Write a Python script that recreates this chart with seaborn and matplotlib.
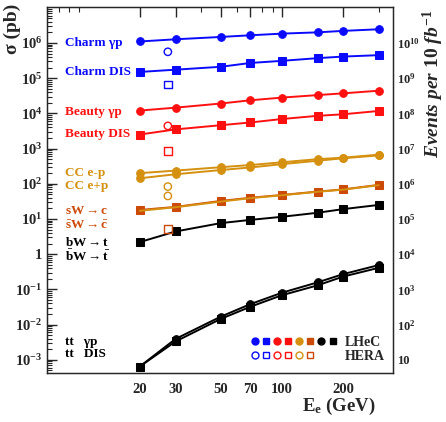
import seaborn as sns
import pandas as pd
import matplotlib.pyplot as plt
from matplotlib.lines import Line2D
from matplotlib.legend_handler import HandlerTuple
from matplotlib.ticker import LogLocator, NullFormatter

# beam energy points (GeV)
E = [20, 30, 50, 70, 100, 150, 200, 300]
E_hera = 27.5

# cross sections in pb
charm_gp = [1.1e6, 1.27e6, 1.48e6, 1.65e6, 1.84e6, 2.0e6, 2.2e6, 2.45e6]
charm_dis = [1.5e5, 1.74e5, 2.1e5, 2.7e5, 3.1e5, 3.7e5, 4.1e5, 4.5e5]
beauty_gp = [1.2e4, 1.45e4, 1.9e4, 2.35e4, 2.8e4, 3.3e4, 3.7e4, 4.4e4]
beauty_dis = [2.5e3, 3.5e3, 4.6e3, 5.5e3, 6.9e3, 8.5e3, 9.4e3, 1.17e4]
cc_em = [200, 236, 295, 340, 407, 500, 550, 670]
cc_ep = [143, 186, 245, 290, 360, 450, 530, 640]
sw_c = [18, 22, 32.5, 40, 48, 60, 69, 93]
sbw_cbar = [17, 21.5, 31, 39, 47, 59, 68, 91]
bw_t = [2.2, 4.4, 7.6, 9.4, 11.5, 15, 19, 25]
tt_gp = [6.4e-4, 3.9e-3, 1.67e-2, 3.8e-2, 8.0e-2, 0.158, 0.27, 0.49]
tt_dis = [6.4e-4, 3.3e-3, 1.44e-2, 3.2e-2, 6.8e-2, 0.13, 0.23, 0.41]

# HERA values at 27.5 GeV
hera_vals = [5.6e5, 6.5e4, 4.4e3, 8.5e2, 83, 45, 5.2]
hera_marks = ['o', 's', 'o', 's', 'o', 'o', 's']

BLUE = '#0a0aff'
RED = '#ff1010'
GOLD = '#d4900e'
ORANGE = '#cc4a08'
hera_cols = [BLUE, BLUE, RED, RED, GOLD, GOLD, ORANGE]

sns.set_style('white')
plt.rcParams['font.family'] = ['Liberation Serif', 'DejaVu Serif']
plt.rcParams['font.weight'] = 'bold'
plt.rcParams['mathtext.fontset'] = 'custom'
plt.rcParams['mathtext.rm'] = 'Liberation Serif:bold'
plt.rcParams['mathtext.bf'] = 'Liberation Serif:bold'
plt.rcParams['mathtext.it'] = 'Liberation Serif:bold:italic'
plt.rcParams['mathtext.default'] = 'bf'

fig = plt.figure(figsize=(4.46, 4.22), dpi=100)
ax = fig.add_axes([47/446, 1 - 373/422, 346/446, 366/422])

series = [
    (charm_gp, BLUE, 'o', BLUE),
    (charm_dis, BLUE, 's', BLUE),
    (beauty_gp, RED, 'o', RED),
    (beauty_dis, RED, 's', RED),
    (cc_em, GOLD, 'o', GOLD),
    (cc_ep, GOLD, 'o', GOLD),
    (sw_c, ORANGE, 's', ORANGE),
    (sbw_cbar, GOLD, None, GOLD),
    (bw_t, 'black', 's', 'black'),
    (tt_gp, 'black', 'o', 'black'),
    (tt_dis, 'black', 's', 'black'),
]
for vals, col, mk, lc in series:
    df = pd.DataFrame({'E': E, 'sigma': vals})
    sns.lineplot(data=df, x='E', y='sigma', color=lc, lw=1.4, marker=mk,
                 ms=5.5, mec=col, mfc=col, ax=ax)

for v, m, c in zip(hera_vals, hera_marks, hera_cols):
    sns.scatterplot(x=[E_hera], y=[v], marker=m, s=28, facecolor='none',
                    edgecolor=c, linewidth=1.0, ax=ax, zorder=5)

ax.set_xscale('log')
ax.set_yscale('log')
ax.set_xlim(7, 352)
ax.set_ylim(4.2e-4, 1.05e7)

ax.set_xticks([20, 30, 50, 70, 100, 200])
ax.set_xticklabels(['20', '30', '50', '70', '100', '200'])
ax.xaxis.set_minor_locator(LogLocator(base=10, subs=range(1, 10), numticks=20))
ax.xaxis.set_minor_formatter(NullFormatter())

yt = [10.0**k for k in range(-3, 7)]
ylab = []
for k in range(-3, 7):
    if k == 0:
        ylab.append('1')
    else:
        ylab.append('$10^{%d}$' % k)
ax.set_yticks(yt)
ax.set_yticklabels(ylab)
ax.yaxis.set_minor_locator(LogLocator(base=10, subs=range(2, 10), numticks=30))
ax.yaxis.set_minor_formatter(NullFormatter())

ax.tick_params(which='major', direction='in', length=7, width=1, labelsize=10.5,
               top=True, right=False)
ax.tick_params(which='minor', direction='in', length=3.5, width=0.8, top=True, right=False)
ax.tick_params(axis='x', pad=7)
for s in ax.spines.values():
    s.set_linewidth(1.0)
ax.set_xlabel('')
ax.set_ylabel('')
ax.xaxis.get_offset_text().set_visible(False)

# right axis: events per 10 fb^-1 = sigma * 1e4
ax2 = ax.twinx()
ax2.set_yscale('log')
ax2.set_ylim(4.2e-4 * 1e4, 1.05e7 * 1e4)
rt = [10.0**k for k in range(1, 11)]
rlab = ['10'] + ['$10^{%d}$' % k for k in range(2, 11)]
ax2.set_yticks(rt)
ax2.set_yticklabels(rlab)
ax2.yaxis.set_minor_locator(LogLocator(base=10, subs=[]))
ax2.tick_params(which='both', length=0, labelsize=9, pad=3)
ax2.tick_params(axis='x', which='both', labelbottom=False, bottom=False)
ax2.xaxis.get_offset_text().set_visible(False)
ax2.yaxis.get_offset_text().set_visible(False)

# series labels on the left
labels = [
    ('Charm γp', BLUE, 43), ('Charm DIS', BLUE, 72),
    ('Beauty γp', RED, 112), ('Beauty DIS', RED, 134),
    ('CC e-p', GOLD, 173), ('CC e+p', GOLD, 186),
    (r'sW$\rightarrow$c', ORANGE, 211), (r'$\bar{s}$W$\rightarrow\bar{c}$', ORANGE, 226),
    (r'bW$\rightarrow$t', 'black', 242), (r'$\bar{b}$W$\rightarrow\bar{t}$', 'black', 256),
    ('tt   γp', 'black', 342), ('tt   DIS', 'black', 354),
]
for txt, c, ypx in labels:
    fig.text(65/446, 1 - ypx/422, txt, color=c, fontsize=9.5, fontweight='bold',
             va='center', ha='left')

# marker legend
lhec = [Line2D([], [], ls='none', marker=m, color=c, ms=5)
        for m, c in zip(['o', 's', 'o', 's', 'o', 's', 'o', 's'],
                        [BLUE, BLUE, RED, RED, GOLD, ORANGE, 'black', 'black'])]
hera = [Line2D([], [], ls='none', marker=m, mfc='none', mec=c, mew=1.0, ms=5)
        for m, c in zip(['o', 's', 'o', 's', 'o', 's'],
                        [BLUE, BLUE, RED, RED, GOLD, ORANGE])]
hera += [Line2D([], [], ls='none'), Line2D([], [], ls='none')]
ax.legend([tuple(lhec), tuple(hera)], ['LHeC', 'HERA'],
          handler_map={tuple: HandlerTuple(ndivide=None, pad=0.0)},
          loc='lower right', bbox_to_anchor=(1.005, 0.0), frameon=False,
          handlelength=6.4, handletextpad=0.5, labelspacing=0.1, fontsize=10,
          borderaxespad=0.3)

fig.text(12/446, 1 - 4/422, 'σ (pb)', rotation=90, ha='center', va='top',
         fontsize=14, fontweight='bold')
fig.text(376/446, 1 - 406/422, 'E$_{e}$ (GeV)', ha='right', va='center',
         fontsize=13.5, fontweight='bold')
fig.text(433/446, 1 - 10/422, r'$\mathit{Events\ per\ 10\ fb^{-1}}$', rotation=90,
         ha='center', va='top', fontsize=14)

fig.savefig('out.png', dpi=100)
